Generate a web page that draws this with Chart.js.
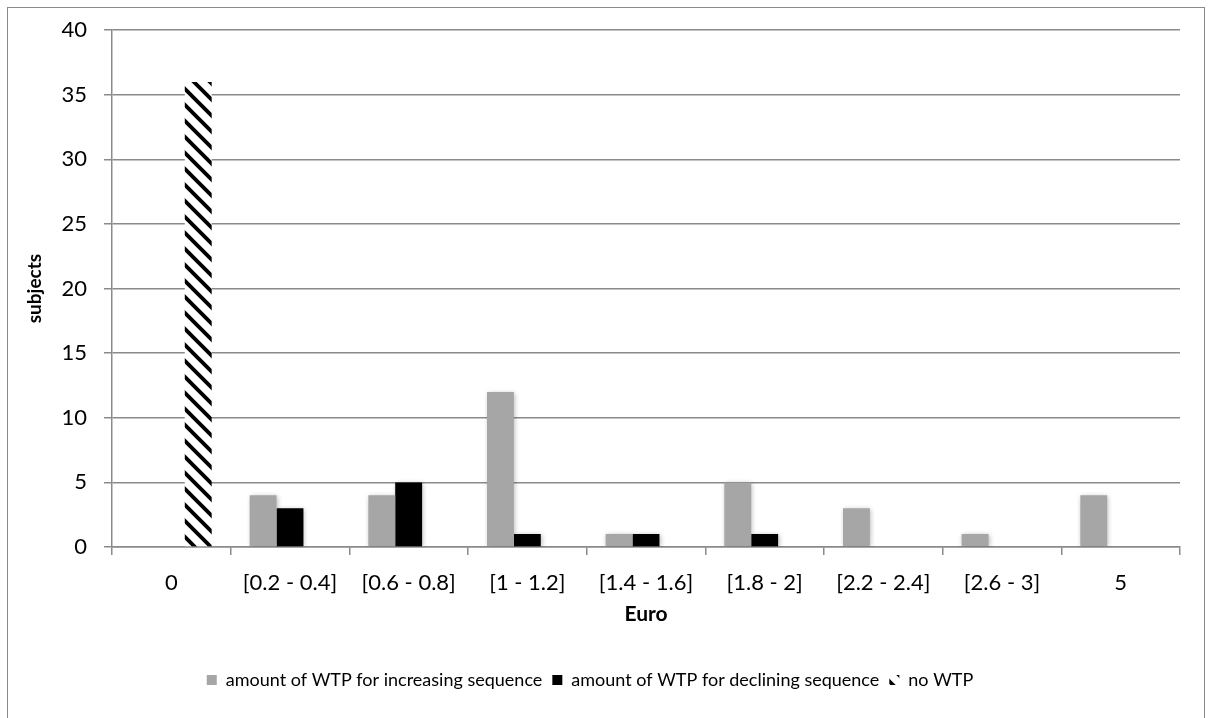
<!DOCTYPE html>
<html>
<head>
<meta charset="utf-8">
<script src="https://cdn.jsdelivr.net/npm/chart.js@4.4.1/dist/chart.umd.min.js"></script>
<style>
  body { margin: 0; background: #fff; }
  #wrap { position: relative; width: 1208px; height: 718px; overflow: hidden; }
  #frame { position: absolute; left: 7px; top: 7px; width: 1198px; height: 730px; border: 1.5px solid #8a8a8a; box-sizing: border-box; }
  canvas { position: absolute; left: 0; top: 0; }
</style>
</head>
<body>
<div id="wrap">
  <div id="frame"></div>
  <canvas id="myChart" width="1208" height="718"></canvas>
</div>
<script>
// values
const categories = ['0', '[0.2 - 0.4]', '[0.6 - 0.8]', '[1 - 1.2]', '[1.4 - 1.6]', '[1.8 - 2]', '[2.2 - 2.4]', '[2.6 - 3]', '5'];
const increasing = [0, 4, 4, 12, 1, 5, 3, 1, 4];
const declining = [0, 3, 5, 1, 1, 1, 0, 0, 0];
const noWtp = [36, 0, 0, 0, 0, 0, 0, 0, 0];
const yTicks = [0, 5, 10, 15, 20, 25, 30, 35, 40];

const gridColor = '#8a8a8a';
const font = 'Lato, "Open Sans", sans-serif';

// diagonal hatch like excel's wide downward diagonal
function hatch() {
  const p = document.createElement('canvas');
  p.width = 16; p.height = 16;
  const g = p.getContext('2d');
  g.fillStyle = '#fff';
  g.fillRect(0, 0, 16, 16);
  g.strokeStyle = '#000';
  g.lineWidth = 3.8;
  g.beginPath();
  g.moveTo(-4, -4); g.lineTo(20, 20);
  g.moveTo(-4, 12); g.lineTo(4, 20);
  g.moveTo(12, -4); g.lineTo(20, 4);
  g.stroke();
  return document.getElementById('myChart').getContext('2d').createPattern(p, 'repeat');
}

// soft shadow on the solid bars
const barShadow = {
  id: 'barShadow',
  beforeDatasetDraw(chart, args) {
    if (args.index === 2) return;
    const c = chart.ctx;
    c.save();
    c.shadowColor = 'rgba(0,0,0,0.3)';
    c.shadowBlur = 5;
    c.shadowOffsetX = 1;
    c.shadowOffsetY = 1;
  },
  afterDatasetDraw(chart, args) {
    if (args.index === 2) return;
    chart.ctx.restore();
  }
};

const ctx = document.getElementById('myChart').getContext('2d');
const myChart = new Chart(ctx, {
  type: 'bar',
  data: {
    labels: categories,
    datasets: [
      { label: 'amount of WTP for increasing sequence', data: increasing, backgroundColor: '#a6a6a6', borderWidth: 0 },
      { label: 'amount of WTP for declining sequence', data: declining, backgroundColor: '#000000', borderWidth: 0 },
      { label: 'no WTP', data: noWtp, backgroundColor: hatch(), borderWidth: 0 }
    ]
  },
  plugins: [barShadow],
  options: {
    responsive: false,
    animation: false,
    events: [],
    layout: { padding: { left: 0, top: 25, right: 28, bottom: 19 } },
    datasets: { bar: { categoryPercentage: 0.68, barPercentage: 1 } },
    plugins: {
      tooltip: { enabled: false },
      legend: {
        position: 'bottom',
        labels: {
          boxWidth: 10, boxHeight: 10, padding: 10,
          color: '#000',
          font: { family: font, size: 18 }
        }
      }
    },
    scales: {
      x: {
        afterFit(scale) { scale.height = 114; },
        grid: { display: true, drawOnChartArea: false, drawTicks: true, tickLength: 8, color: gridColor, lineWidth: 1.5 },
        border: { display: true, color: gridColor, width: 1.5 },
        ticks: { color: '#000', padding: 15, maxRotation: 0, autoSkip: false, font: { family: font, size: 22 } },
        title: { display: true, text: 'Euro', color: '#000', padding: { top: 5, bottom: 34 }, font: { family: font, size: 21, weight: 'bold' } }
      },
      y: {
        min: 0, max: 40,
        afterBuildTicks(scale) { scale.ticks = yTicks.map(v => ({ value: v })); },
        afterFit(scale) { scale.width = 112; },
        grid: { color: gridColor, lineWidth: 1.5, drawTicks: true, tickLength: 8 },
        border: { display: true, color: gridColor, width: 1.5 },
        ticks: { color: '#000', padding: 17, font: { family: font, size: 22 } },
        title: { display: true, text: 'subjects', color: '#000', padding: { top: 23.6, bottom: 0 }, font: { family: font, size: 19, weight: 'bold' } }
      }
    }
  }
});
</script>
</body>
</html>
